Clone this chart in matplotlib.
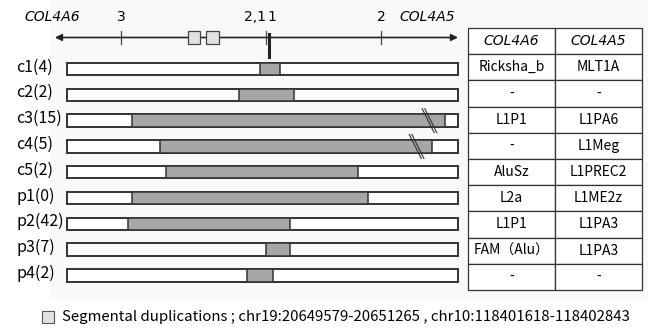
import matplotlib.pyplot as plt
from matplotlib.patches import Rectangle

plt.rcParams['font.family'] = ['Noto Sans CJK JP', 'DejaVu Sans']

# rows of the breakpoint diagram (positions in % of the bar length)
row_labels = ['c1(4)', 'c2(2)', 'c3(15)', 'c4(5)', 'c5(2)',
              'p1(0)', 'p2(42)', 'p3(7)', 'p4(2)']
seg_start = [49.4, 44.0, 16.6, 23.8, 25.3, 16.6, 15.6, 50.9, 46.0]
seg_end = [54.5, 58.1, 96.7, 93.4, 74.4, 77.0, 57.0, 57.0, 52.7]
break_pos = [None, None, 92.7, 89.4, None, None, None, None, None]

# top axis
tick_pos = [13.8, 50.9, 80.3]
tick_text = ['3', '2,1', '2']
thick_tick = 51.7
thick_text = '1'
segdup_start = [30.9, 35.5]
segdup_end = [34.0, 38.9]

# repeat element table
col_a6 = ['Ricksha_b', '-', 'L1P1', '-', 'AluSz', 'L2a', 'L1P1', 'FAM（Alu）', '-']
col_a5 = ['MLT1A', '-', 'L1PA6', 'L1Meg', 'L1PREC2', 'L1ME2z', 'L1PA3', 'L1PA3', '-']

legend_text = 'Segmental duplications ; chr19:20649579-20651265 , chr10:118401618-118402843'

W, H = 648, 330
BAR_L, BAR_W = 67, 391  # pixel extent of a bar


def px(p):
    return BAR_L + p * BAR_W / 100.0


fig = plt.figure(figsize=(W / 100, H / 100), dpi=100)
ax = fig.add_axes([0, 0, 1, 1])
ax.set_xlim(0, W)
ax.set_ylim(H, 0)
ax.axis('off')

# faint panel background
ax.add_patch(Rectangle((50, 0), W - 50, 300, facecolor='#f9f9f9', edgecolor='none', zorder=0))

# top gene axis
axis_y = 37.5
ax.annotate('', xy=(px(100), axis_y), xytext=(px(-3.1), axis_y),
            arrowprops=dict(arrowstyle='<|-|>', color='#222222', lw=1.2,
                            mutation_scale=10, shrinkA=0, shrinkB=0))
for p, t in zip(tick_pos, tick_text):
    ax.plot([px(p), px(p)], [31, 44], color='#444444', lw=0.9)
    ha = 'right' if t == '2,1' else 'center'
    xx = px(p) - 0.5 if t == '2,1' else px(p)
    ax.text(xx, 17, t, ha=ha, va='center', fontsize=10, family='DejaVu Sans')
ax.plot([px(thick_tick), px(thick_tick)], [34, 57], color='#222222', lw=2.2)
ax.text(px(thick_tick) + 3, 17, thick_text, ha='center', va='center', fontsize=10,
        family='DejaVu Sans')
ax.text(52, 17, 'COL4A6', ha='center', va='center', fontsize=10, style='italic',
        family='DejaVu Sans')
ax.text(427, 17, 'COL4A5', ha='center', va='center', fontsize=10, style='italic',
        family='DejaVu Sans')
for s, e in zip(segdup_start, segdup_end):
    ax.add_patch(Rectangle((px(s), 31), px(e) - px(s), 13, facecolor='#e2e2e2',
                           edgecolor='#444444', lw=0.9, zorder=3))

# bars
row_y0, row_step, bar_h = 69, 25.8, 12.5
for i, lab in enumerate(row_labels):
    yc = row_y0 + i * row_step
    ax.add_patch(Rectangle((px(0), yc - bar_h / 2), BAR_W, bar_h, facecolor='white',
                           edgecolor='#333333', lw=1.4, zorder=2))
    ax.add_patch(Rectangle((px(seg_start[i]), yc - bar_h / 2),
                           px(seg_end[i]) - px(seg_start[i]), bar_h,
                           facecolor='#a6a6a6', edgecolor='#333333', lw=1.1, zorder=3))
    ax.text(16, yc - 2, lab, ha='left', va='center', fontsize=11.5)
    if break_pos[i] is not None:
        bx = px(break_pos[i])
        for off in (-1.3, 1.3):
            ax.plot([bx - 6 + off, bx + 6 + off], [yc - 12, yc + 12],
                    color='#333333', lw=0.8, zorder=4)

# table
tab = ax.table(cellText=[[a, b] for a, b in zip(col_a6, col_a5)],
               colLabels=['COL4A6', 'COL4A5'], cellLoc='center',
               bbox=[468 / W, 1 - 290 / H, 174 / W, 262 / H])
tab.auto_set_font_size(False)
for (r, c), cell in tab.get_celld().items():
    cell.set_edgecolor('#333333')
    cell.set_linewidth(0.9)
    cell.set_facecolor('white')
    cell.get_text().set_fontsize(10)
    if r == 0:
        cell.get_text().set_fontstyle('italic')
        cell.get_text().set_fontfamily('DejaVu Sans')

# legend
ax.add_patch(Rectangle((42, 311), 12, 12, facecolor='#e2e2e2', edgecolor='#555555',
                       lw=0.8))
ax.text(62, 317, legend_text, ha='left', va='center', fontsize=10.8)

fig.savefig('out.png', dpi=100)
